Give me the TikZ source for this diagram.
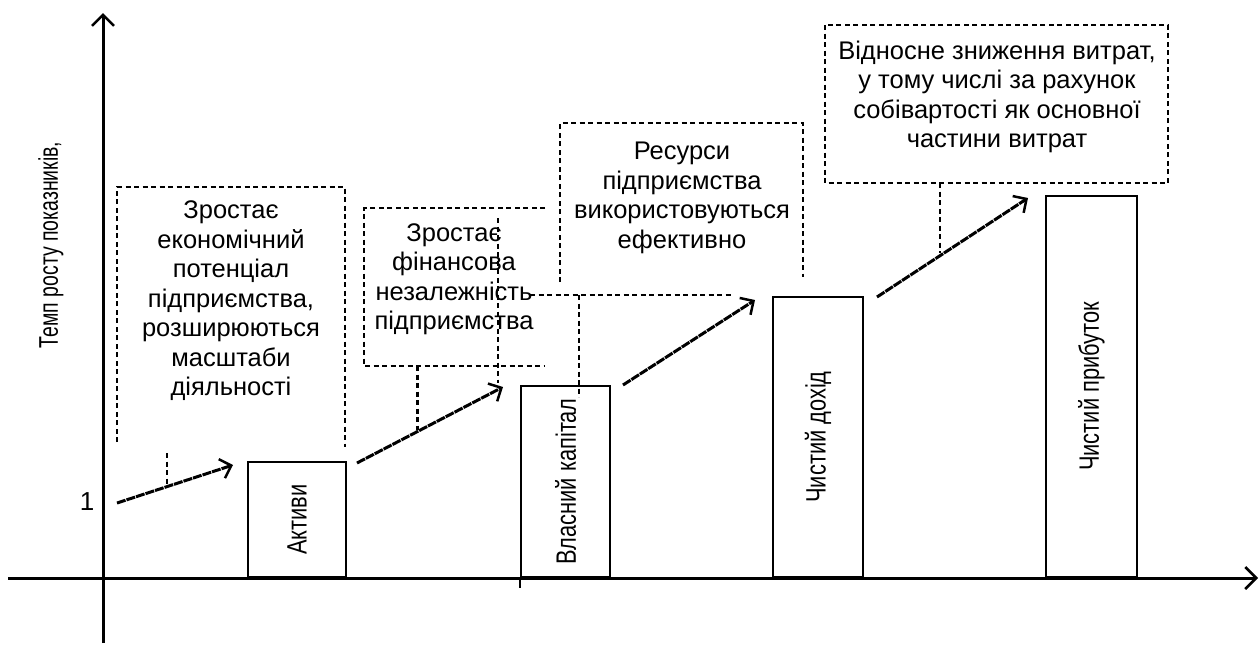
\documentclass[tikz,border=0pt]{standalone}
\usepackage{fontspec}
\setmainfont{Liberation Sans}
\newfontfamily\narrowf[FakeStretch=0.78]{Liberation Sans}
\newfontfamily\ynarrowf[FakeStretch=0.72]{Liberation Sans}
\usetikzlibrary{arrows.meta}
\begin{document}
\begin{tikzpicture}[x=1pt,y=-1pt,
  axisline/.style={line width=3pt,-{Straight Barb[length=11pt,width=22pt,line width=2.5pt]}},
  barbox/.style={draw,line width=2pt,inner sep=0pt,anchor=south west},
  dbox/.style={dash pattern=on 5pt off 3.5pt,line width=1.4pt},
  growarrow/.style={line width=3pt,dash pattern=on 9pt off 1pt,-{Straight Barb[length=10pt,width=20pt,line width=2.5pt]}},
  notetext/.style={align=center,font=\fontsize{25.5}{29.5}\selectfont,inner sep=0pt},
  barlabel/.style={rotate=90,font=\narrowf\fontsize{28}{28}\selectfont,inner sep=0pt},
  ticklabel/.style={font=\fontsize{26}{26}\selectfont,inner sep=0pt}]
\useasboundingbox (0,0) rectangle (1259,646);
% axes
\coordinate (xs) at (8,578);
\coordinate (xe) at (1258,578);
\coordinate (ys) at (103,643);
\coordinate (ye) at (103,13);
\draw[axisline] (xs) -- (xe);
\draw[axisline] (ys) -- (ye);
\node[rotate=90,font=\ynarrowf\fontsize{27}{27}\selectfont,inner sep=0pt] (ylab) at (51,245) {Темп росту показників,};
\node[ticklabel] (one) at (87,502) {1};
% bars
\node[barbox,minimum width=98pt,minimum height=115pt] (b1) at (247,578) {};
\node[barbox,minimum width=89pt,minimum height=191pt] (b2) at (520,578) {};
\node[barbox,minimum width=90pt,minimum height=280pt] (b3) at (772,578) {};
\node[barbox,minimum width=91pt,minimum height=381pt] (b4) at (1045,578) {};
\coordinate (b2t) at (520,588);
\draw[line width=2pt] (b2.south west) -- (b2t);
\node[barlabel] (l1) at (b1.center) {Активи};
\node[barlabel] (l2) at (b2.center) {Власний капітал};
\node[barlabel] (l3) at (b3.center) {Чистий дохід};
\node[barlabel] (l4) at (b4.center) {Чистий прибуток};
% growth arrows
\coordinate (a1s) at (117,503); \coordinate (a1e) at (233,465);
\coordinate (a2s) at (357,463); \coordinate (a2e) at (503,387);
\coordinate (a3s) at (623,385); \coordinate (a3e) at (755,300);
\coordinate (a4s) at (877,297); \coordinate (a4e) at (1028,198);
\draw[growarrow] (a1s) -- (a1e);
\draw[growarrow] (a2s) -- (a2e);
\draw[growarrow] (a3s) -- (a3e);
\draw[growarrow] (a4s) -- (a4e);
% note texts
\node[notetext] (n1) at (231,301) {Зростає\\економічний\\потенціал\\підприємства,\\розширюються\\масштаби\\діяльності};
\node[notetext] (n2) at (454,279) {Зростає\\фінансова\\незалежність\\підприємства};
\node[notetext] (n3) at (682,198) {Ресурси\\підприємства\\використовуються\\ефективно};
\node[notetext] (n4) at (997,97) {Відносне зниження витрат,\\у тому числі за рахунок\\собівартості як основної\\частини витрат};
% dashed frames
\draw[dbox] (117,442) -- (117,187) -- (345,187) -- (345,447);
\draw[dbox] (545,208) -- (364,208) -- (364,366) -- (545,366);
\draw[dbox] (560,282) -- (560,123) -- (803,123) -- (803,277);
\draw[dbox] (825,25) rectangle (1168,183);
% dashed leaders
\draw[dbox] (167,453) -- (167,485);
\draw[dbox,line width=3pt] (417,366) -- (417,430);
\draw[dbox,line width=2pt] (940,183) -- (940,253);
\draw[dbox] (498,218) -- (498,383);
\draw[dbox] (530,295) -- (733,295);
\draw[dbox] (579,295) -- (579,397);
\end{tikzpicture}
\end{document}
